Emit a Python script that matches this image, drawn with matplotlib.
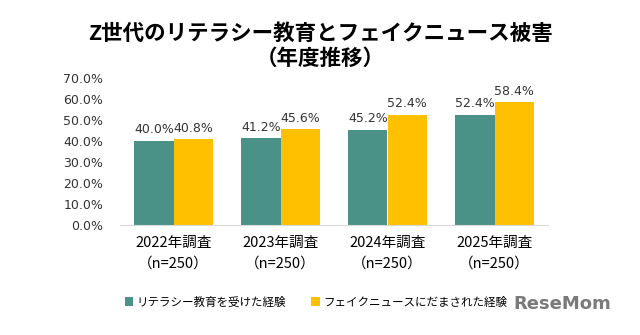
import numpy as np
import matplotlib.pyplot as plt
from matplotlib.ticker import FuncFormatter

plt.rcParams['font.family'] = ['Noto Sans CJK JP', 'DejaVu Sans']

# データ
years = ["2022年調査\n（n=250）", "2023年調査\n（n=250）", "2024年調査\n（n=250）", "2025年調査\n（n=250）"]
education = [40.0, 41.2, 45.2, 52.4]
fake_news = [40.8, 45.6, 52.4, 58.4]
series_names = ["リテラシー教育を受けた経験", "フェイクニュースにだまされた経験"]

teal = "#4A9188"
yellow = "#FFC000"

fig = plt.figure(figsize=(6.4, 3.35), dpi=100)
ax = fig.add_axes([120 / 640, 1 - 225 / 335, 428 / 640, 147 / 335])

x = np.arange(len(years))
w = 0.365
b1 = ax.bar(x - w / 2, education, w, color=teal, label=series_names[0])
b2 = ax.bar(x + w / 2, fake_news, w, color=yellow, label=series_names[1])

# 値ラベル
for bars, vals in [(b1, education), (b2, fake_news)]:
    for r, v in zip(bars, vals):
        ax.text(r.get_x() + r.get_width() / 2, v + 2.2, f"{v:.1f}%",
                ha="center", va="bottom", fontsize=9, color="#333333",
                family=["DejaVu Sans"])

ax.set_xlim(-0.5, 3.5)
ax.set_ylim(0, 70)
ax.set_yticks(np.arange(0, 71, 10))
ax.yaxis.set_major_formatter(FuncFormatter(lambda v, p: f"{v:.1f}%"))
ax.set_xticks(x)
ax.set_xticklabels(years, fontsize=10.5, linespacing=1.55)
for lbl in ax.get_yticklabels():
    lbl.set_family(["DejaVu Sans"])
    lbl.set_fontsize(9)
    lbl.set_color("#333333")
ax.tick_params(axis="both", length=0)
ax.tick_params(axis="y", pad=12)
ax.tick_params(axis="x", pad=8)

for s in ["top", "right", "left"]:
    ax.spines[s].set_visible(False)
ax.spines["bottom"].set_color("#D9D9D9")

fig.text(0.5, 1 - 33 / 335, "Z世代のリテラシー教育とフェイクニュース被害",
         ha="center", va="center", fontsize=15.5, fontweight="bold")
fig.text(0.5, 1 - 58 / 335, "（年度推移）",
         ha="center", va="center", fontsize=15.5, fontweight="bold")

fig.legend(handles=[b1, b2], labels=series_names, loc="center",
           bbox_to_anchor=(316 / 640, 1 - 302 / 335), ncol=2, frameon=False,
           fontsize=8.3, handlelength=0.7, handleheight=0.7, handletextpad=0.3,
           columnspacing=2.2)

fig.text(611 / 640, 1 - 304 / 335, "ReseMom", ha="right", va="center",
         fontsize=13, fontweight="bold", color="#7a7a7a", family=["DejaVu Sans"])

fig.savefig("out.png", dpi=100, facecolor="white")
